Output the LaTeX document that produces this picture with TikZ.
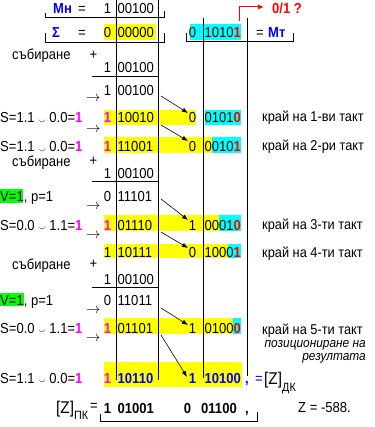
\documentclass[tikz,border=0pt]{standalone}
\usepackage{fontspec}
\setmainfont{Liberation Sans}[FakeStretch=0.9]
\usetikzlibrary{arrows.meta}
\definecolor{hlY}{RGB}{255,255,0}
\definecolor{hlC}{RGB}{0,255,255}
\definecolor{hlG}{RGB}{0,255,0}
\definecolor{mag}{RGB}{255,0,255}
\definecolor{blu}{RGB}{0,0,255}
\definecolor{rd}{RGB}{255,0,0}
\newcommand\Rd[1]{{\color{rd}\bfseries #1}}
\newcommand\Mg[1]{{\color{mag}\bfseries #1}}
\newcommand\Bl[1]{{\color{blu}\bfseries #1}}
\newcommand\orsym{\raisebox{-1.6pt}{\scalebox{0.75}[1.3]{\fontsize{10}{10}\selectfont$\smile$}}}
\begin{document}
\begin{tikzpicture}[x=1pt,y=-1pt,
  txt/.style={inner sep=0pt, anchor=base west, font=\fontsize{14.5}{16}\selectfont},
  sgn/.style={inner sep=0pt, anchor=base, font=\fontsize{14.5}{16}\selectfont},
  lab/.style={inner sep=0pt, anchor=base west, font=\fontsize{14.2}{16}\selectfont},
  itl/.style={inner sep=0pt, anchor=base east, font=\fontsize{13.2}{15}\selectfont\itshape},
  arw/.style={inner sep=0pt, anchor=west, font=\fontsize{13.5}{15}\selectfont},
  bld/.style={font=\fontsize{14.5}{16}\selectfont\bfseries},
  rule/.style={line width=1pt},
  shiftarrow/.style={line width=0.6pt, -{Latex[length=6pt,width=4.5pt]}},
  yel/.style={fill=hlY},
  cya/.style={fill=hlC},
  grn/.style={fill=hlG}]
\useasboundingbox (0,0) rectangle (374,427);
% highlight fills
\fill[yel] (104,24) rectangle (156,40);
\fill[cya] (190,24) rectangle (241,40);
\fill[yel] (104,110) rectangle (196,125);
\fill[cya] (205,110) rectangle (241,125);
\fill[yel] (104,137) rectangle (212,153);
\fill[cya] (212,137) rectangle (241,153);
\fill[yel] (104,215) rectangle (219,231);
\fill[cya] (219,215) rectangle (241,231);
\fill[yel] (104,244) rectangle (228,258);
\fill[cya] (228,244) rectangle (241,258);
\fill[yel] (104,318) rectangle (233,334);
\fill[cya] (233,318) rectangle (241,334);
\fill[yel] (104,362) rectangle (242,387);
\fill[grn] (0,189) rectangle (23,203);
\fill[grn] (0,293) rectangle (24,306);
% coordinates for lines
\coordinate (v1t) at (116,0);   \coordinate (v1b) at (116,380);
\coordinate (v2t) at (158.5,0); \coordinate (v2b) at (158.5,380);
\coordinate (v3t) at (203,18);  \coordinate (v3b) at (203,378);
\coordinate (v4t) at (247,18);  \coordinate (v4b) at (247,376);
\draw[rule] (v1t) -- (v1b);
\draw[rule] (v2t) -- (v2b);
\draw[rule] (v3t) -- (v3b);
\draw[rule] (v4t) -- (v4b);
% brackets
\coordinate (b1a) at (45,13);  \coordinate (b1b) at (164,11);
\draw[rule] (b1a) -- (45,18) -- (164,18) -- (b1b);
\coordinate (b2a) at (45,33);  \coordinate (b2b) at (164,33);
\draw[rule] (b2a) -- (45,43) -- (164,43) -- (b2b);
\coordinate (b3a) at (186,33); \coordinate (b3b) at (293,33);
\draw[rule] (b3a) -- (186,42) -- (293,42) -- (b3b);
\coordinate (b4a) at (100,414); \coordinate (b4b) at (257,412);
\draw[rule] (b4a) -- (100,421) -- (257,421) -- (b4b);
% addition rules
\coordinate (r1a) at (92,76.5);  \coordinate (r1b) at (158,76.5);
\coordinate (r2a) at (92,182);   \coordinate (r2b) at (158,182);
\coordinate (r3a) at (92,287);   \coordinate (r3b) at (158,287);
\draw[rule] (r1a) -- (r1b);
\draw[rule] (r2a) -- (r2b);
\draw[rule] (r3a) -- (r3b);
% red arrow
\coordinate (ra) at (239,21); \coordinate (rb) at (264,7);
\draw[rd, line width=1pt, -{Latex[length=6pt,width=5pt]}] (ra) -- (239,7) -- (rb);
% shift arrows
\coordinate (s1a) at (161,96);  \coordinate (s1b) at (188,113);
\coordinate (s2a) at (161,125); \coordinate (s2b) at (188,141);
\coordinate (s3a) at (161,199); \coordinate (s3b) at (188,220);
\coordinate (s4a) at (161,232); \coordinate (s4b) at (188,248);
\coordinate (s5a) at (161,308); \coordinate (s5b) at (188,325);
\coordinate (s6a) at (161,335); \coordinate (s6b) at (187,377);
\draw[shiftarrow] (s1a) -- (s1b);
\draw[shiftarrow] (s2a) -- (s2b);
\draw[shiftarrow] (s3a) -- (s3b);
\draw[shiftarrow] (s4a) -- (s4b);
\draw[shiftarrow] (s5a) -- (s5b);
\draw[shiftarrow] (s6a) -- (s6b);
% header rows
\node[txt, bld, text=blu] (mn) at (53,14) {Мн};
\node[txt] (mneq) at (78,14) {=};
\node[sgn] (mns) at (107.5,14) {1};
\node[txt] (mnd) at (117.5,14) {00100};
\node[txt, bld, text=blu] (sg) at (52,38) {Σ};
\node[txt] (sgeq) at (78,38) {=};
\node[sgn] (sgs) at (107.5,38) {0};
\node[txt] (sgd) at (117.5,38) {00000};
\node[sgn] (mts) at (192.5,38) {0};
\node[txt] (mtd) at (204.5,38) {1010\Rd{1}};
\node[txt] (mteq) at (256,38) {=};
\node[txt, bld, text=blu] (mt) at (268,38) {Мт};
\node[txt, bld, text=rd] (q) at (272,14) {0/1 ?};
% addition 1
\node[txt] (ad1) at (12,60) {събиране};
\node[sgn, anchor=center] (pl1) at (93.5,55) {+};
\node[sgn] (a1s) at (107.5,73) {1};
\node[txt] (a1d) at (117.5,73) {00100};
\node[sgn] (a2s) at (107.5,96) {1};
\node[txt] (a2d) at (117.5,96) {00100};
\node[arw] (ar1) at (86,98.5) {$\rightarrow$};
% row 1
\node[txt] (l1) at (0,123) {S=1.1 \orsym\ 0.0=\Mg{1}};
\node[sgn] (r1s) at (107.5,123) {\Mg{1}};
\node[txt] (r1d) at (117.5,123) {10010};
\node[sgn] (r1t) at (192.5,123) {0};
\node[txt] (r1u) at (204.5,123) {0101\Rd{0}};
\node[lab] (k1) at (262,122) {край на 1-ви такт};
\node[arw] (ar2) at (86,129.5) {$\rightarrow$};
% row 2
\node[txt] (l2) at (0,152) {S=1.1 \orsym\ 0.0=\Mg{1}};
\node[sgn] (r2s) at (107.5,152) {\Mg{1}};
\node[txt] (r2d) at (117.5,152) {11001};
\node[sgn] (r2t) at (192.5,152) {0};
\node[txt] (r2u) at (204.5,152) {0010\Rd{1}};
\node[lab] (k2) at (262,151) {край на 2-ри такт};
% addition 2
\node[txt] (ad2) at (12,167) {събиране};
\node[sgn, anchor=center] (pl2) at (93.5,161) {+};
\node[sgn] (a3s) at (107.5,179) {1};
\node[txt] (a3d) at (117.5,179) {00100};
\node[txt] (v1) at (0,202) {V=1, p=1};
\node[sgn] (a4s) at (107.5,202) {0};
\node[txt] (a4d) at (117.5,202) {11101};
\node[arw] (ar3) at (86,206.5) {$\rightarrow$};
% row 3
\node[txt] (l3) at (0,230) {S=0.0 \orsym\ 1.1=\Mg{1}};
\node[sgn] (r3s) at (107.5,230) {\Mg{1}};
\node[txt] (r3d) at (117.5,230) {01110};
\node[sgn] (r3t) at (192.5,230) {1};
\node[txt] (r3u) at (204.5,230) {0001\Rd{0}};
\node[lab] (k3) at (262,229) {край на 3-ти такт};
\node[arw] (ar4) at (86,235.5) {$\rightarrow$};
% row 4
\node[sgn] (r4s) at (107.5,257) {1};
\node[txt] (r4d) at (117.5,257) {10111};
\node[sgn] (r4t) at (192.5,257) {0};
\node[txt] (r4u) at (204.5,257) {1000\Rd{1}};
\node[lab] (k4) at (262,257) {край на 4-ти такт};
% addition 3
\node[txt] (ad3) at (12,269) {събиране};
\node[sgn, anchor=center] (pl3) at (93.5,264) {+};
\node[sgn] (a5s) at (107.5,284) {1};
\node[txt] (a5d) at (117.5,284) {00100};
\node[txt] (v2) at (0,305) {V=1, p=1};
\node[sgn] (a6s) at (107.5,305) {0};
\node[txt] (a6d) at (117.5,305) {11011};
\node[arw] (ar5) at (86,310.5) {$\rightarrow$};
% row 5
\node[txt] (l5) at (0,333) {S=0.0 \orsym\ 1.1=\Mg{1}};
\node[sgn] (r5s) at (107.5,333) {\Mg{1}};
\node[txt] (r5d) at (117.5,333) {01101};
\node[sgn] (r5t) at (192.5,333) {1};
\node[txt] (r5u) at (204.5,333) {0100\Rd{0}};
\node[lab] (k5) at (262,334) {край на 5-ти такт};
\node[itl] (p1) at (366,347) {позициониране на};
\node[itl] (p2) at (366,360) {резултата};
\node[arw] (ar6) at (86,338.5) {$\rightarrow$};
% final row
\node[txt] (l6) at (0,383) {S=1.1 \orsym\ 0.0=\Mg{1}};
\node[sgn] (r6s) at (107.5,383) {\Mg{1}};
\node[txt] (r6d) at (117.5,383) {\Bl{10110}};
\node[sgn] (r6t) at (192.5,383) {\Bl{1}};
\node[txt] (r6u) at (204.5,383) {\Bl{10100}};
\node[txt] (r6c) at (245,383) {\Bl{,}};
\node[txt, text=blu] (r6e) at (255,383) {=};
\node[txt, font=\fontsize{17}{19}\selectfont] (zdk) at (264,384) {[Z]};
\node[txt, font=\fontsize{12}{14}\selectfont] (zdks) at (282,391) {ДК};
% result
\node[txt, font=\fontsize{17}{19}\selectfont] (zpk) at (56,413) {[Z]};
\node[txt, font=\fontsize{12}{14}\selectfont] (zpks) at (74,419) {ПК};
\node[txt] (zpkeq) at (90,410) {=};
\node[sgn, bld] (f1) at (107.5,413) {1};
\node[txt, bld] (f2) at (117.5,413) {01001};
\node[sgn, bld] (f3) at (187.5,413) {0};
\node[txt, bld] (f4) at (201,413) {01100};
\node[txt, bld] (f5) at (245,413) {,};
\node[txt] (zval) at (298,412) {Z = -588.};
\end{tikzpicture}
\end{document}
